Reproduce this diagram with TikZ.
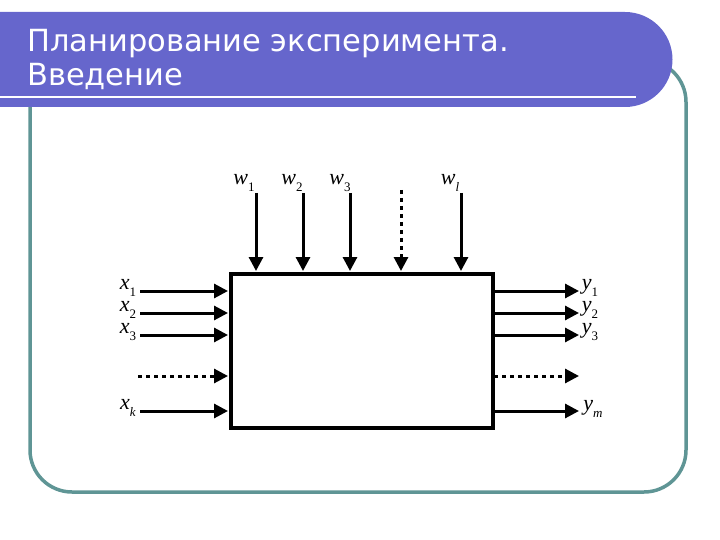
\documentclass[tikz,border=0pt]{standalone}
\usepackage{fontspec}
\newfontfamily\titlefont{DejaVu Sans}
\newfontfamily\tms{Liberation Serif}
\usetikzlibrary{arrows.meta}
\definecolor{barblue}{HTML}{6666CC}
\definecolor{frameteal}{HTML}{5F9595}
\newcommand\lbl[2]{{\itshape #1}\raisebox{-0.3em}{\fontsize{13}{13}\selectfont #2}}
\tikzset{
  sig/.style={line width=3pt,-{Triangle[length=14pt,width=14pt]}},
  dotsig/.style={sig,dash pattern=on 4pt off 4pt},
  lab/.style={inner sep=0pt,font=\tms\fontsize{22}{22}\selectfont},
}
\begin{document}
\begin{tikzpicture}[x=1pt,y=-1pt]
\useasboundingbox (0,0) rectangle (720,540);
% frame
\draw[frameteal,line width=3.5pt,rounded corners=42pt] (30,60) rectangle (686,492);
% title bar
\fill[barblue] (0,12) -- (625,12) arc[start angle=-90,end angle=90,radius=47.5] -- (0,107) -- cycle;
\draw[white,line width=2.2pt] (0,97) -- (636,97);
\node[anchor=base west,inner sep=0pt,text=white,align=left,font=\titlefont\fontsize{30.5}{34}\selectfont] (title) at (27,86) {Планирование эксперимента.\\Введение};
% box
\node[draw,line width=4pt,minimum width=262pt,minimum height=154pt,inner sep=0pt,anchor=north west] (box) at (229,272) {};
% top inputs
\coordinate (w1s) at (256,193); \coordinate (w1e) at (256,271);
\coordinate (w2s) at (303,193); \coordinate (w2e) at (303,271);
\coordinate (w3s) at (350,193); \coordinate (w3e) at (350,271);
\coordinate (wds) at (401,190); \coordinate (wde) at (401,271);
\coordinate (wls) at (461,193); \coordinate (wle) at (461,271);
\draw[sig] (w1s) -- (w1e);
\draw[sig] (w2s) -- (w2e);
\draw[sig] (w3s) -- (w3e);
\draw[dotsig] (wds) -- (wde);
\draw[sig] (wls) -- (wle);
\node[lab] (lw1) at (244,183) {\lbl{w}{1}};
\node[lab] (lw2) at (292,183) {\lbl{w}{2}};
\node[lab] (lw3) at (340,183) {\lbl{w}{3}};
\node[lab] (lwl) at (450,183) {\lbl{w}{\itshape l}};
% left inputs
\coordinate (x1s) at (140,291); \coordinate (x1e) at (228,291);
\coordinate (x2s) at (140,313); \coordinate (x2e) at (228,313);
\coordinate (x3s) at (140,335); \coordinate (x3e) at (228,335);
\coordinate (xds) at (138,376); \coordinate (xde) at (228,376);
\coordinate (xks) at (140,411); \coordinate (xke) at (228,411);
\draw[sig] (x1s) -- (x1e);
\draw[sig] (x2s) -- (x2e);
\draw[sig] (x3s) -- (x3e);
\draw[dotsig] (xds) -- (xde);
\draw[sig] (xks) -- (xke);
\node[lab] (lx1) at (128,288) {\lbl{x}{1}};
\node[lab] (lx2) at (128,310) {\lbl{x}{2}};
\node[lab] (lx3) at (128,332) {\lbl{x}{3}};
\node[lab] (lxk) at (128,408) {\lbl{x}{\itshape k}};
% right outputs
\coordinate (y1s) at (492,291); \coordinate (y1e) at (579,291);
\coordinate (y2s) at (492,313); \coordinate (y2e) at (579,313);
\coordinate (y3s) at (492,335); \coordinate (y3e) at (579,335);
\coordinate (yds) at (494,376); \coordinate (yde) at (579,376);
\coordinate (yms) at (492,411); \coordinate (yme) at (579,411);
\draw[sig] (y1s) -- (y1e);
\draw[sig] (y2s) -- (y2e);
\draw[sig] (y3s) -- (y3e);
\draw[dotsig] (yds) -- (yde);
\draw[sig] (yms) -- (yme);
\node[lab] (ly1) at (590,288) {\lbl{y}{1}};
\node[lab] (ly2) at (590,310) {\lbl{y}{2}};
\node[lab] (ly3) at (590,332) {\lbl{y}{3}};
\node[lab] (lym) at (593,409) {\lbl{y}{\itshape m}};
\end{tikzpicture}
\end{document}
